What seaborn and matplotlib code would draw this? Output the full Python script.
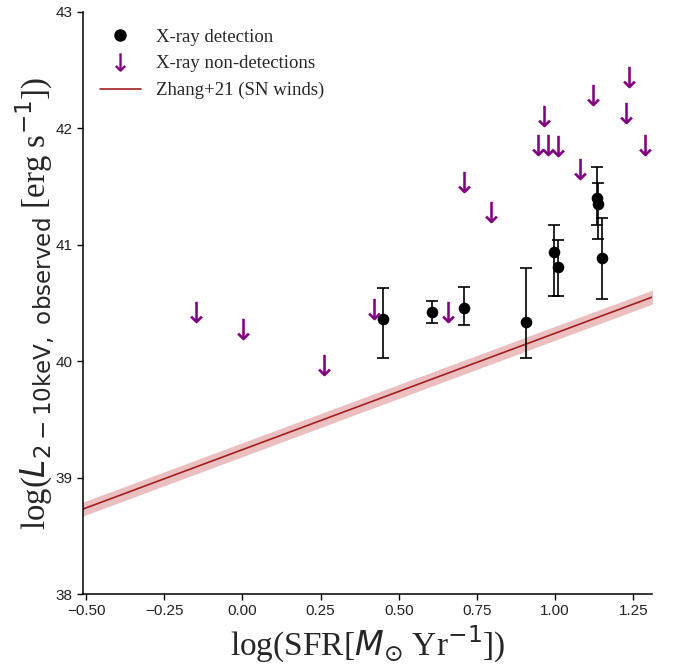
import matplotlib
matplotlib.use("Agg")
import matplotlib.pyplot as plt
import seaborn as sns
import numpy as np
import pandas as pd
from matplotlib.lines import Line2D

# Detections
det_sfr = [0.448, 0.605, 0.709, 0.907, 0.995, 1.010, 1.133, 1.138, 1.149]
det_lx = [40.36, 40.42, 40.46, 40.34, 40.94, 40.81, 41.40, 41.35, 40.89]
det_hi = [40.63, 40.52, 40.64, 40.80, 41.17, 41.04, 41.67, 41.53, 41.23]
det_lo = [40.03, 40.33, 40.31, 40.03, 40.56, 40.56, 41.17, 41.05, 40.53]

# Non-detections (upper limits)
ul_sfr = [-0.149, 0.001, 0.261, 0.422, 0.659, 0.710, 0.795, 0.944, 0.966,
          0.976, 1.008, 1.080, 1.122, 1.226, 1.237, 1.288]
ul_lx = [40.42, 40.28, 39.97, 40.45, 40.42, 41.54, 41.28, 41.86, 42.11,
         41.86, 41.85, 41.65, 42.29, 42.13, 42.44, 41.86]

# Zhang+21 relation (SN winds)
model_sfr = [-0.55, 1.35]
model_lx = [38.69, 40.59]
model_scatter = 0.06

xticks = [-0.50, -0.25, 0.00, 0.25, 0.50, 0.75, 1.00, 1.25]
yticks = [38, 39, 40, 41, 42, 43]

sns.set_theme(style="ticks")
plt.rcParams['font.family'] = ['Liberation Sans', 'DejaVu Sans']

fig = plt.figure(figsize=(6.78, 6.64), dpi=100)
ax = fig.add_axes([0.1224, 0.1054, 0.8393, 0.8766])

det = pd.DataFrame({"sfr": det_sfr, "lx": det_lx, "hi": det_hi, "lo": det_lo})
ul = pd.DataFrame({"sfr": ul_sfr, "lx": ul_lx})
mod = pd.DataFrame({"sfr": model_sfr, "lx": model_lx})

line_col = "#a31f1f"
band_col = "#c8464b"
ax.fill_between(mod["sfr"], mod["lx"] - model_scatter, mod["lx"] + model_scatter,
                color=band_col, alpha=0.35, lw=0, zorder=1)
sns.lineplot(data=mod, x="sfr", y="lx", ax=ax, color=line_col, lw=1.2, zorder=2)

ax.errorbar(det["sfr"], det["lx"],
            yerr=[det["lx"] - det["lo"], det["hi"] - det["lx"]],
            fmt="none", ecolor="black", elinewidth=1.2, capsize=4, capthick=1.2, zorder=3)
sns.scatterplot(data=det, x="sfr", y="lx", ax=ax, color="black", s=70,
                edgecolor="black", linewidth=0, zorder=4)
sns.scatterplot(data=ul, x="sfr", y="lx", ax=ax, marker=r"$\downarrow$",
                color="purple", s=230, edgecolor="purple", linewidth=0.2, zorder=4)

ax.set_xlim(-0.51, 1.31)
ax.set_ylim(38, 43)
ax.set_xticks(xticks)
ax.set_yticks(yticks)
ax.tick_params(labelsize=11, length=4, width=1, colors="black", labelcolor="#222222")
for s in ["left", "bottom"]:
    ax.spines[s].set_color("black")
    ax.spines[s].set_linewidth(1.1)
sns.despine(ax=ax)

serif = ['Liberation Serif', 'DejaVu Serif']
ax.set_xlabel(r"log(SFR[$M_{\odot}$ Yr$^{-1}$])", fontsize=24, family=serif, labelpad=4)
ax.set_ylabel(r"log($L_{2-10\mathrm{keV,\ observed}}$ [erg s$^{-1}$])", fontsize=23.7,
              family=serif, labelpad=-1)

handles = [
    Line2D([], [], marker="o", color="black", ls="none", markersize=8),
    Line2D([], [], marker=r"$\downarrow$", color="purple", ls="none", markersize=13,
           markeredgewidth=0.2),
    Line2D([], [], color=line_col, lw=1.2),
]
labels = ["X-ray detection", "X-ray non-detections", "Zhang+21 (SN winds)"]
ax.legend(handles, labels, loc="upper left", frameon=False, prop={"family": serif, "size": 13.5},
          borderaxespad=0.5, handlelength=2.2, labelspacing=0.5)

fig.savefig("out.png", dpi=100)
